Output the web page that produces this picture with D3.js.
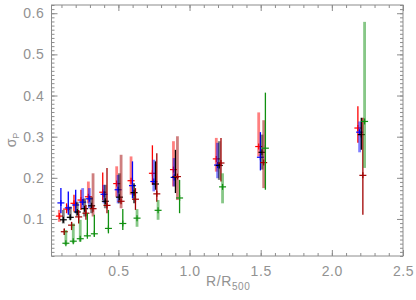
<!DOCTYPE html>
<html>
<head>
<style>
  body { margin: 0; background: #fff; }
  text { font-family: "Liberation Sans", Arial, sans-serif; fill: #929292; }
  .axis line, .axis path { stroke: #8c8c8c; }
</style>
<script src="https://d3js.org/d3.v7.min.js"></script>
</head>
<body>
<svg id="plot" width="416" height="300"></svg>
<script>
// values, one set of arrays per series
const xTicks = [0.5, 1.0, 1.5, 2.0, 2.5];
const yTicks = [0.1, 0.2, 0.3, 0.4, 0.5, 0.6];

const redX  = [0.085,0.136,0.188,0.237,0.289,0.390,0.488,0.589,0.739,0.887,1.188,1.486,2.183];
const redY  = [0.107,0.124,0.138,0.146,0.154,0.165,0.186,0.193,0.211,0.220,0.246,0.276,0.321];
const redLo = [0.093,0.114,0.118,0.122,0.138,0.146,0.154,0.159,0.183,0.179,0.215,0.252,0.285];
const redHi = [0.122,0.138,0.159,0.171,0.191,0.213,0.228,0.252,0.279,0.289,0.297,0.359,0.374];
const redSoft = [1,0,0,0,1,0,1,1,0,1,1,1,0];

const blueX  = [0.096,0.148,0.200,0.249,0.296,0.399,0.498,0.599,0.749,0.892,1.197,1.498,2.195];
const blueY  = [0.139,0.127,0.134,0.141,0.149,0.160,0.171,0.181,0.191,0.201,0.231,0.250,0.311];
const blueLo = [0.114,0.110,0.114,0.126,0.126,0.138,0.138,0.150,0.167,0.179,0.199,0.218,0.262];
const blueHi = [0.175,0.167,0.171,0.175,0.175,0.183,0.207,0.240,0.244,0.248,0.285,0.311,0.337];
const blueSoft = [0,0,0,1,1,1,1,0,1,1,1,0,1];

const blackX  = [0.113,0.162,0.211,0.263,0.312,0.408,0.507,0.610,0.761,0.901,1.209,1.509,2.207];
const blackY  = [0.098,0.104,0.117,0.125,0.132,0.143,0.153,0.164,0.185,0.202,0.230,0.262,0.305];
const blackLo = [0.089,0.098,0.106,0.106,0.114,0.126,0.138,0.138,0.171,0.163,0.195,0.220,0.268];
const blackHi = [0.122,0.130,0.142,0.150,0.154,0.183,0.211,0.187,0.240,0.268,0.289,0.305,0.346];
const blackSoft = [1,1,1,1,1,1,1,0,0,0,1,1,0];

const brownX  = [0.120,0.171,0.221,0.272,0.322,0.420,0.519,0.620,0.770,0.915,1.221,1.521,2.218];
const brownY  = [0.069,0.085,0.105,0.114,0.125,0.133,0.143,0.148,0.161,0.203,0.236,0.237,0.206];
const brownLo = [0.061,0.073,0.089,0.098,0.106,0.114,0.126,0.122,0.142,0.146,0.191,0.175,0.110];
const brownHi = [0.077,0.093,0.122,0.134,0.211,0.224,0.256,0.175,0.260,0.301,0.297,0.340,0.346];
const brownSoft = [0,0,0,0,1,0,1,0,0,1,0,1,0];

const greenX  = [0.131,0.183,0.232,0.282,0.331,0.430,0.531,0.631,0.779,0.930,1.232,1.533,2.230];
const greenY  = [0.041,0.046,0.052,0.059,0.064,0.077,0.089,0.102,0.121,0.151,0.178,0.272,0.337];
const greenLo = [0.037,0.041,0.045,0.057,0.057,0.065,0.073,0.081,0.098,0.114,0.138,0.171,0.224];
const greenHi = [0.073,0.089,0.098,0.114,0.110,0.122,0.124,0.124,0.146,0.195,0.211,0.407,0.579];
const greenSoft = [1,1,1,0,0,0,0,1,1,0,1,0,1];

const series = [
  {x: redX,   y: redY,   lo: redLo,   hi: redHi,   soft: redSoft,   color: "#ff0000"},
  {x: blueX,  y: blueY,  lo: blueLo,  hi: blueHi,  soft: blueSoft,  color: "#0000ff"},
  {x: blackX, y: blackY, lo: blackLo, hi: blackHi, soft: blackSoft, color: "#000000"},
  {x: brownX, y: brownY, lo: brownLo, hi: brownHi, soft: brownSoft, color: "#a00000"},
  {x: greenX, y: greenY, lo: greenLo, hi: greenHi, soft: greenSoft, color: "#109010"}
];

const svg = d3.select("svg#plot");
const margins = {"top": 5, "right": 13, "bottom": 44, "left": 51.5};
const width = +svg.attr("width");
const height = +svg.attr("height");
const chartWidth = width - margins.left - margins.right;
const chartHeight = height - margins.top - margins.bottom;

const xScale = d3.scaleLinear().domain([0.03, 2.5]).range([0, chartWidth]);
const yScale = d3.scaleLinear().domain([0.01, 0.62]).range([chartHeight, 0]);

const fmt = d3.format(".1f");
const xMinor = d3.range(0.1, 2.5001, 0.1).map(v => +v.toFixed(2));
const yMinor = d3.range(0.01, 0.6201, 0.01).map(v => +v.toFixed(2));

let annotations = svg.append("g")
  .attr("transform", "translate(" + margins.left + "," + margins.top + ")");

// IDL style: inward ticks on all four sides, labels only bottom and left
function ticks(axis, scale, values, size, fmtFn) {
  return axis(scale).tickValues(values).tickSizeInner(-size).tickSizeOuter(0)
    .tickPadding(size + 6).tickFormat(fmtFn);
}

annotations.append("g").attr("class", "axis")
  .attr("transform", "translate(0," + chartHeight + ")")
  .call(ticks(d3.axisBottom, xScale, xMinor, 3, ""));
annotations.append("g").attr("class", "axis x")
  .attr("transform", "translate(0," + chartHeight + ")")
  .call(ticks(d3.axisBottom, xScale, xTicks, 6, fmt));
annotations.append("g").attr("class", "axis")
  .call(ticks(d3.axisTop, xScale, xMinor, 3, ""));
annotations.append("g").attr("class", "axis")
  .call(ticks(d3.axisTop, xScale, xTicks, 6, ""));

annotations.append("g").attr("class", "axis")
  .call(ticks(d3.axisLeft, yScale, yMinor, 3, ""));
annotations.append("g").attr("class", "axis y")
  .call(ticks(d3.axisLeft, yScale, yTicks, 6, fmt));
annotations.append("g").attr("class", "axis")
  .attr("transform", "translate(" + chartWidth + ",0)")
  .call(ticks(d3.axisRight, yScale, yMinor, 3, ""));
annotations.append("g").attr("class", "axis")
  .attr("transform", "translate(" + chartWidth + ",0)")
  .call(ticks(d3.axisRight, yScale, yTicks, 6, ""));

annotations.selectAll(".axis .domain").remove();
annotations.selectAll(".axis.x text")
  .style("font-size", "14px").attr("dy", "0.71em").attr("y", 10).style("letter-spacing", "0.6px");
annotations.selectAll(".axis.y text")
  .style("font-size", "14px").attr("x", -7).style("letter-spacing", "0.6px");

annotations.append("rect")
  .attr("width", chartWidth).attr("height", chartHeight)
  .attr("fill", "none").attr("stroke", "#8c8c8c").attr("stroke-width", 1);

// error bars and crosses
let points = annotations.append("g");
series.forEach(s => {
  s.x.forEach((xv, i) => {
    const cx = xScale(xv);
    const soft = s.soft[i] === 1;
    points.append("line")
      .attr("x1", cx).attr("x2", cx)
      .attr("y1", yScale(s.lo[i])).attr("y2", yScale(s.hi[i]))
      .attr("stroke", s.color)
      .attr("stroke-width", soft ? 2.8 : 1.3)
      .attr("stroke-opacity", soft ? 0.5 : 1);
    points.append("line")
      .attr("x1", cx - 3.5).attr("x2", cx + 3.5)
      .attr("y1", yScale(s.y[i])).attr("y2", yScale(s.y[i]))
      .attr("stroke", s.color).attr("stroke-width", 1.2);
    points.append("line")
      .attr("x1", cx).attr("x2", cx)
      .attr("y1", yScale(s.y[i]) - 3).attr("y2", yScale(s.y[i]) + 3)
      .attr("stroke", s.color).attr("stroke-width", 1.2);
  });
});

// axis titles
let xTitle = svg.append("text")
  .attr("x", margins.left + chartWidth / 2 + 1).attr("y", 286)
  .style("text-anchor", "middle").style("font-size", "14px").style("letter-spacing", "0.6px");
xTitle.append("tspan").text("R/R");
xTitle.append("tspan").attr("dy", 4).style("font-size", "10px").text("500");

let yTitle = svg.append("text")
  .attr("transform", "translate(16," + 140 + ") rotate(-90)")
  .style("text-anchor", "middle").style("font-size", "14px");
yTitle.append("tspan").text("σ");
yTitle.append("tspan").attr("dy", 3).style("font-size", "9px").text("P");
</script>
</body>
</html>
